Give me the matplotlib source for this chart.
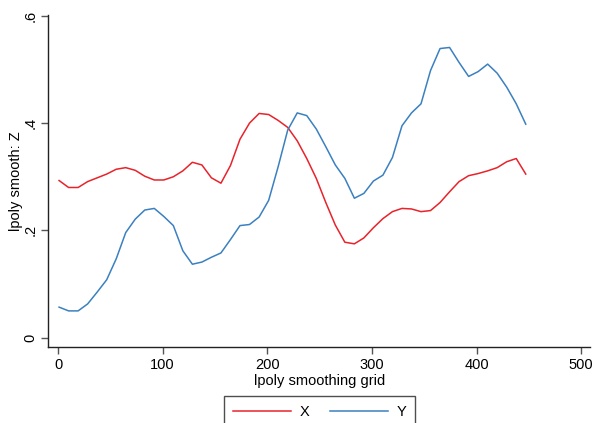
import matplotlib
matplotlib.use("Agg")
import matplotlib.pyplot as plt

plt.rcParams['font.family'] = ['Liberation Sans', 'DejaVu Sans']

grid = [1.0, 10.1, 19.2, 28.3, 37.4, 46.5, 55.6, 64.7, 73.8, 82.9,
        92.0, 101.1, 110.2, 119.3, 128.4, 137.5, 146.6, 155.7, 164.8, 173.9,
        183.0, 192.2, 201.3, 210.4, 219.5, 228.6, 237.7, 246.8, 255.9, 265.0,
        274.1, 283.2, 292.3, 301.4, 310.5, 319.6, 328.7, 337.8, 346.9, 356.0,
        365.1, 374.2, 383.3, 392.4, 401.5, 410.6, 419.7, 428.8, 437.9, 447.0]

x_smooth = [0.293, 0.280, 0.280, 0.291, 0.298, 0.305, 0.314, 0.317, 0.312, 0.301,
            0.294, 0.294, 0.300, 0.311, 0.327, 0.322, 0.298, 0.288, 0.321, 0.370,
            0.400, 0.418, 0.416, 0.405, 0.392, 0.367, 0.334, 0.297, 0.252, 0.210,
            0.178, 0.175, 0.186, 0.205, 0.222, 0.235, 0.241, 0.240, 0.235, 0.237,
            0.252, 0.272, 0.291, 0.302, 0.306, 0.311, 0.317, 0.328, 0.334, 0.305]

y_smooth = [0.057, 0.050, 0.050, 0.063, 0.085, 0.108, 0.147, 0.196, 0.221, 0.238,
            0.241, 0.226, 0.209, 0.162, 0.137, 0.141, 0.150, 0.158, 0.183, 0.209,
            0.211, 0.225, 0.256, 0.319, 0.387, 0.419, 0.414, 0.389, 0.356, 0.322,
            0.297, 0.260, 0.269, 0.292, 0.303, 0.336, 0.395, 0.419, 0.436, 0.498,
            0.539, 0.541, 0.513, 0.487, 0.496, 0.510, 0.493, 0.467, 0.436, 0.398]

xticks = [0, 100, 200, 300, 400, 500]
yticks = [0, 0.2, 0.4, 0.6]
ytick_labels = ["0", ".2", ".4", ".6"]

fig = plt.figure(figsize=(5.93, 4.23), dpi=100)
ax = fig.add_axes([48.3/593, 76/423, (590-48.3)/593, (347-15)/423])

ax.plot(grid, x_smooth, color='#e8232b', lw=1.1, label='X')
ax.plot(grid, y_smooth, color='#3b80c0', lw=1.1, label='Y')

ax.set_xlim(-9.3, 508.4)
ax.set_ylim(-0.0173, 0.6015)
ax.set_xticks(xticks)
ax.set_yticks(yticks)
ax.set_yticklabels(ytick_labels, rotation=90, va='center')
for s in ['top', 'right']:
    ax.spines[s].set_visible(False)
for s in ['left', 'bottom']:
    ax.spines[s].set_color('#222222')
    ax.spines[s].set_linewidth(1.0)
ax.tick_params(axis='both', length=5, width=1.0, color='#555555', labelsize=10.5, pad=3)
ax.set_xlabel('lpoly smoothing grid', fontsize=10.5, labelpad=1)
ax.set_ylabel('lpoly smooth: Z', fontsize=10.5, labelpad=0)

leg = fig.legend(loc='upper center', bbox_to_anchor=(319.7/593, 1 - 396.3/423), ncol=2,
                 fontsize=10.5, handlelength=4.0, handletextpad=0.6, columnspacing=1.4,
                 frameon=True, fancybox=False, borderpad=0.6, borderaxespad=0)
leg.get_frame().set_edgecolor('#222222')
leg.get_frame().set_linewidth(1.0)

fig.savefig('out.png', dpi=100)
